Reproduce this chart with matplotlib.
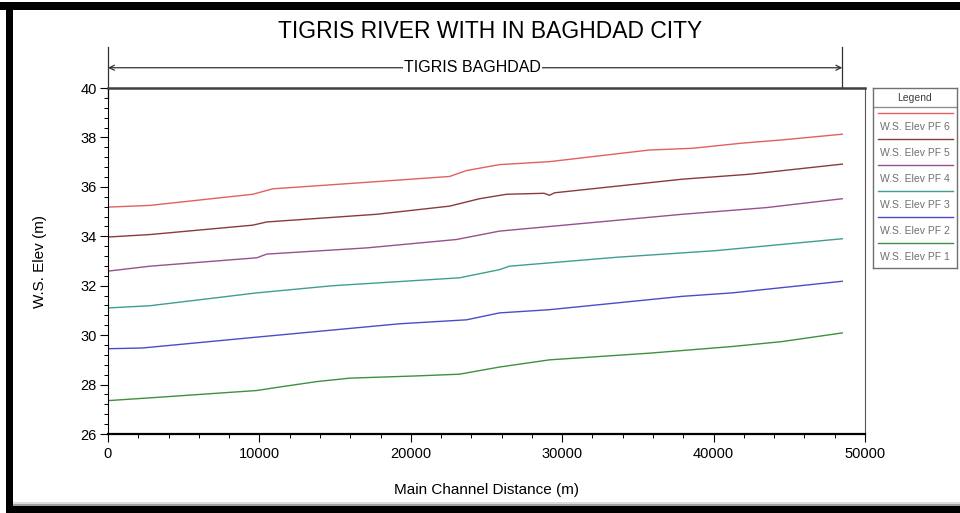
import matplotlib.pyplot as plt
from matplotlib.patches import Rectangle
from matplotlib.ticker import MultipleLocator

plt.rcParams['font.family'] = ['Liberation Sans', 'DejaVu Sans']

# 水面高程剖面数据 (距离 m, 高程 m)
PF6_X = [0, 2770, 9560, 10880, 17000, 22560, 23680, 25860, 29160, 35750, 38590, 41890, 44530, 48500]
PF6_Y = [35.18, 35.25, 35.70, 35.92, 36.18, 36.42, 36.66, 36.90, 37.02, 37.49, 37.56, 37.77, 37.90, 38.13]

PF5_X = [0, 2770, 9560, 10490, 17740, 22560, 24540, 26320, 28800, 29160, 29500, 37930, 42350, 48500]
PF5_Y = [33.97, 34.07, 34.45, 34.58, 34.89, 35.22, 35.52, 35.70, 35.74, 35.66, 35.76, 36.31, 36.51, 36.92]

PF4_X = [0, 2770, 9830, 10490, 17080, 23020, 25860, 37930, 43470, 48500]
PF4_Y = [32.59, 32.79, 33.13, 33.28, 33.53, 33.87, 34.21, 34.89, 35.16, 35.52]

PF3_X = [0, 2770, 9830, 14840, 23220, 25860, 26520, 33580, 40170, 48500]
PF3_Y = [31.10, 31.19, 31.71, 32.00, 32.32, 32.65, 32.79, 33.15, 33.42, 33.90]

PF2_X = [0, 2270, 9830, 19260, 23680, 25860, 29160, 37930, 41230, 48500]
PF2_Y = [29.45, 29.48, 29.92, 30.46, 30.62, 30.90, 31.03, 31.57, 31.71, 32.18]

PF1_X = [0, 3430, 9830, 11540, 13790, 15960, 20380, 23220, 25860, 29160, 35750, 41230, 44530, 48500]
PF1_Y = [27.35, 27.49, 27.76, 27.92, 28.12, 28.26, 28.35, 28.42, 28.71, 29.00, 29.27, 29.54, 29.74, 30.09]

SERIES = [
    ('W.S. Elev PF 6', PF6_X, PF6_Y, '#e26060'),
    ('W.S. Elev PF 5', PF5_X, PF5_Y, '#8b3a3a'),
    ('W.S. Elev PF 4', PF4_X, PF4_Y, '#98508e'),
    ('W.S. Elev PF 3', PF3_X, PF3_Y, '#409e90'),
    ('W.S. Elev PF 2', PF2_X, PF2_Y, '#4c4cc8'),
    ('W.S. Elev PF 1', PF1_X, PF1_Y, '#409040'),
]

REACH_NAME = 'TIGRIS BAGHDAD'
REACH_START = 0
REACH_END = 48500


def draw_frame(fig):
    """外围黑色边框"""
    W, H = 960, 513
    for x, y, w, h, c in [
        (0, 503, 960, 8, 'black'),      # 上
        (6, 0, 7, 511, 'black'),        # 左
        (6, 0, 954, 7, 'black'),        # 下
        (13, 7, 947, 2, '#a0a0a0'),     # 下方阴影
        (13, 9, 947, 2, '#dcdcdc'),
    ]:
        fig.add_artist(Rectangle((x / W, y / H), w / W, h / H, transform=fig.transFigure,
                                 facecolor=c, edgecolor='none', zorder=10))


def plot_profile(ax):
    """各流量下水面线"""
    for name, xs, ys, color in SERIES:
        ax.plot(xs, ys, color=color, linewidth=1.0)

    ax.set_xlim(0, 50000)
    ax.set_ylim(26, 40)
    ax.xaxis.set_major_locator(MultipleLocator(10000))
    ax.xaxis.set_minor_locator(MultipleLocator(2000))
    ax.yaxis.set_major_locator(MultipleLocator(2))
    ax.yaxis.set_minor_locator(MultipleLocator(0.4))
    ax.tick_params(which='major', direction='out', length=6, width=0.8, labelsize=10.5, colors='black')
    ax.tick_params(which='minor', direction='out', length=3, width=0.7)
    ax.tick_params(axis='y', pad=2)

    ax.spines['top'].set_linewidth(1.8)
    ax.spines['top'].set_color('#404040')
    ax.spines['bottom'].set_linewidth(1.6)
    ax.spines['left'].set_linewidth(0.8)
    ax.spines['right'].set_linewidth(0.8)
    ax.spines['right'].set_color('#555555')

    ax.set_xlabel('Main Channel Distance (m)', fontsize=11, labelpad=16)
    ax.set_ylabel('W.S. Elev (m)', fontsize=11, labelpad=24)

    # 河段范围标注
    ax.plot([REACH_START, REACH_START], [39.6, 41.66], color='#333333', linewidth=0.9, clip_on=False)
    ax.plot([REACH_END, REACH_END], [40.0, 41.66], color='#333333', linewidth=0.9, clip_on=False)
    ax.annotate('', xy=(REACH_START, 40.82), xytext=(REACH_END, 40.82),
                arrowprops=dict(arrowstyle='<->', color='#333333', lw=0.9,
                                shrinkA=0, shrinkB=0, mutation_scale=9),
                annotation_clip=False)
    ax.text(24080, 40.82, REACH_NAME, ha='center', va='center', fontsize=11.5,
            bbox=dict(facecolor='white', edgecolor='none', pad=0.5), clip_on=False)


def plot_legend(fig):
    """右侧图例框"""
    lax = fig.add_axes([873 / 960, 1 - 268 / 513, 84 / 960, 180 / 513])
    lax.set_xlim(0, 84)
    lax.set_ylim(180, 0)
    lax.set_xticks([])
    lax.set_yticks([])
    for s in lax.spines.values():
        s.set_color('#707070')
        s.set_linewidth(1.0)

    lax.text(42, 10, 'Legend', ha='center', va='center', fontsize=7.5, color='#404040')
    lax.plot([0, 84], [19, 19], color='#909090', linewidth=1.0)
    for i, (name, xs, ys, color) in enumerate(SERIES):
        y0 = 25 + 26 * i
        lax.plot([5, 80], [y0, y0], color=color, linewidth=1.0)
        lax.text(42, y0 + 14, name, ha='center', va='center', fontsize=7.5, color='#707070')


def main():
    fig = plt.figure(figsize=(9.6, 5.13), dpi=100)
    ax = fig.add_axes([108 / 960, 1 - 434 / 513, 757 / 960, 346 / 513])

    plot_profile(ax)
    plot_legend(fig)
    fig.text(490 / 960, 1 - 32 / 513, 'TIGRIS RIVER WITH IN BAGHDAD CITY',
             ha='center', va='center', fontsize=16.5)
    draw_frame(fig)

    fig.savefig('out.png', dpi=100, facecolor='white')


if __name__ == '__main__':
    main()
